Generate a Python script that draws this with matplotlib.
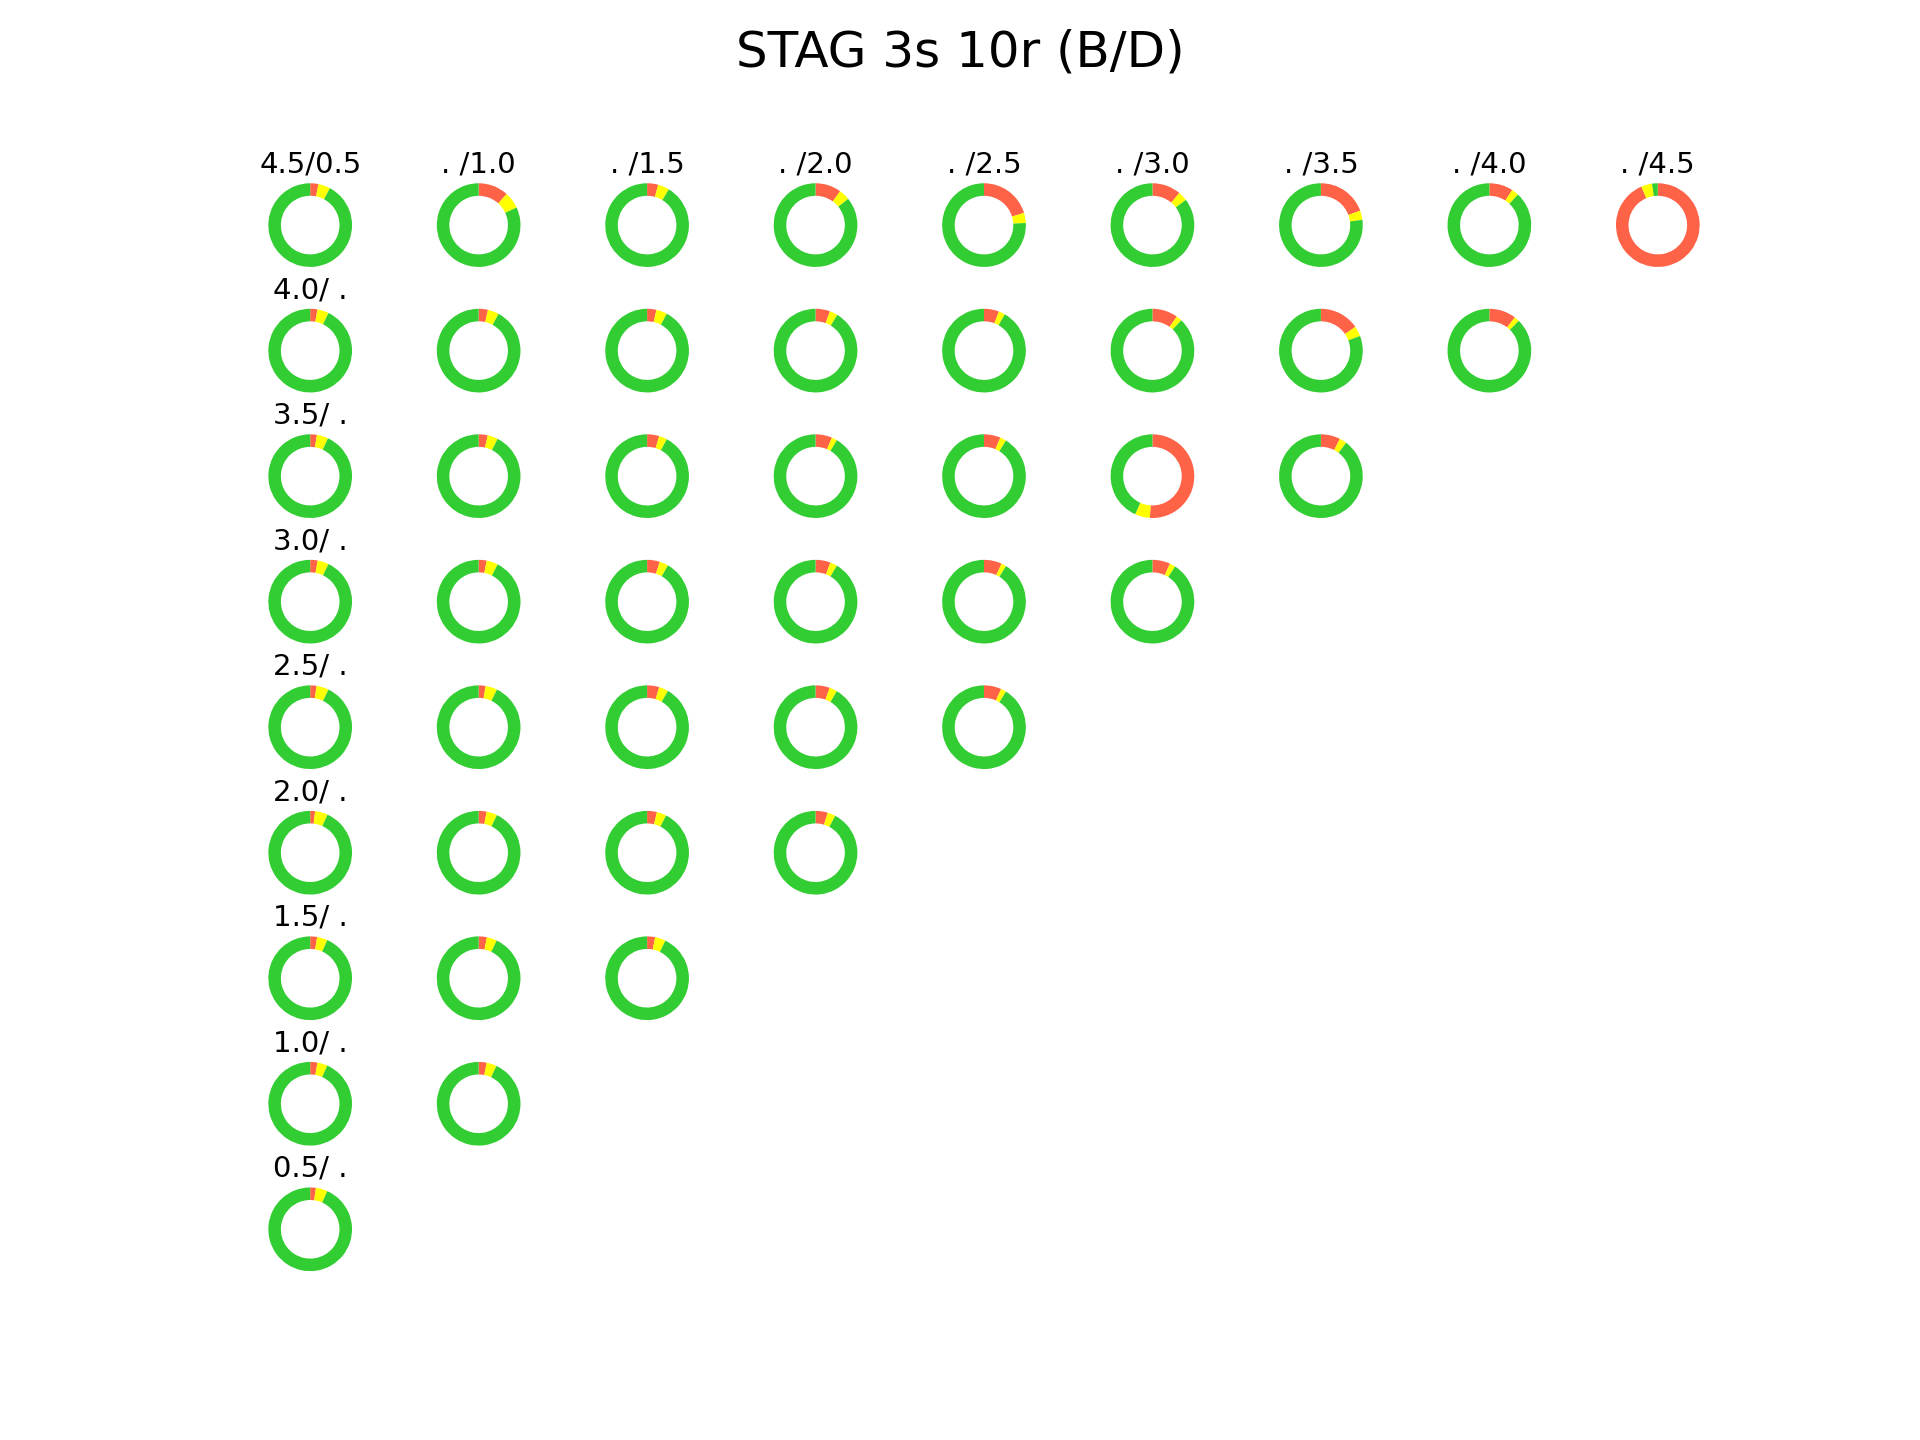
import matplotlib
matplotlib.use("Agg")
import matplotlib.pyplot as plt

# birth (rows) / death (columns) grid, values in percent
row_labels = ["4.5", "4.0", "3.5", "3.0", "2.5", "2.0", "1.5", "1.0", "0.5"]
col_labels = ["0.5", "1.0", "1.5", "2.0", "2.5", "3.0", "3.5", "4.0", "4.5"]

red = [
    [3.2, 11.7, 4.3, 10.0, 20.3, 11.1, 19.4, 9.2, 93.6],
    [2.8, 3.6, 3.6, 5.6, 5.8, 9.9, 15.4, 10.4],
    [2.6, 3.5, 4.7, 6.4, 6.4, 51.0, 7.5],
    [2.9, 3.1, 4.9, 5.8, 6.9, 6.9],
    [2.5, 2.7, 4.7, 5.5, 6.7],
    [1.9, 3.1, 3.8, 4.7],
    [2.7, 3.2, 3.1],
    [2.8, 3.1],
    [2.2],
]
yellow = [
    [4.6, 6.4, 4.4, 4.2, 3.9, 3.6, 3.6, 2.8, 4.2],
    [4.4, 4.3, 4.2, 3.1, 2.5, 2.2, 3.9, 2.0],
    [4.4, 4.0, 3.1, 2.1, 2.4, 5.8, 2.8],
    [4.3, 4.4, 3.4, 2.7, 1.9, 2.2],
    [4.7, 4.5, 3.6, 3.0, 2.1],
    [4.9, 4.1, 3.7, 3.1],
    [4.0, 3.9, 4.1],
    [3.9, 3.9],
    [4.5],
]
green = [
    [92.2, 81.9, 91.3, 85.8, 75.8, 85.3, 77.0, 88.0, 2.2],
    [92.8, 92.1, 92.2, 91.3, 91.7, 87.9, 80.7, 87.6],
    [93.0, 92.5, 92.2, 91.5, 91.2, 43.2, 89.7],
    [92.8, 92.5, 91.7, 91.5, 91.2, 90.9],
    [92.8, 92.8, 91.7, 91.5, 91.2],
    [93.2, 92.8, 92.5, 92.2],
    [93.3, 92.9, 92.8],
    [93.3, 93.0],
    [93.3],
]

colors = ["tomato", "yellow", "limegreen"]


def main():
    n = len(row_labels)
    fig, axes = plt.subplots(n, n, figsize=(12.8, 9.6))
    fig.suptitle("STAG 3s 10r (B/D)", fontsize=24)

    for i in range(n):
        for j in range(n):
            ax = axes[i][j]
            if j >= len(red[i]):
                ax.axis("off")
                continue
            vals = [red[i][j], yellow[i][j], green[i][j]]
            ax.pie(vals, colors=colors, startangle=90, counterclock=False,
                   wedgeprops=dict(width=0.3))
            title = None
            if i == 0 and j == 0:
                title = f"{row_labels[i]}/{col_labels[j]}"
            elif i == 0:
                title = f". /{col_labels[j]}"
            elif j == 0:
                title = f"{row_labels[i]}/ ."
            if title:
                ax.set_title(title, fontsize=14, y=1.0, pad=0)

    fig.savefig("out.png", dpi=150)


if __name__ == "__main__":
    main()
